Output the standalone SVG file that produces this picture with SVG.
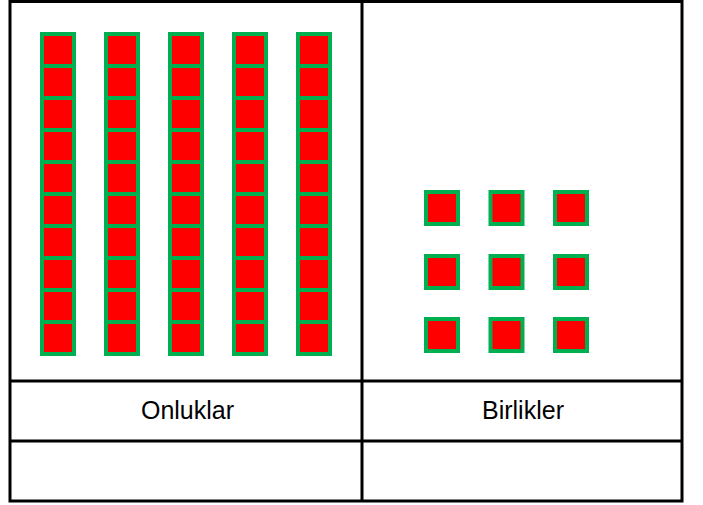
<svg xmlns="http://www.w3.org/2000/svg" xmlns:xlink="http://www.w3.org/1999/xlink" width="703" height="505" viewBox="0 0 703 505">
<style>
.grid{stroke:#000;stroke-width:3;fill:none}
.cell{fill:#ff0000;stroke:#00b050;stroke-width:4}
.lbl{font-family:"Liberation Sans",Arial,sans-serif;font-size:25px;fill:#000;text-anchor:middle}
</style>
<defs>
<g id="rod">
<rect class="cell" x="2" y="2" width="32" height="32"/>
<rect class="cell" x="2" y="34" width="32" height="32"/>
<rect class="cell" x="2" y="66" width="32" height="32"/>
<rect class="cell" x="2" y="98" width="32" height="32"/>
<rect class="cell" x="2" y="130" width="32" height="32"/>
<rect class="cell" x="2" y="162" width="32" height="32"/>
<rect class="cell" x="2" y="194" width="32" height="32"/>
<rect class="cell" x="2" y="226" width="32" height="32"/>
<rect class="cell" x="2" y="258" width="32" height="32"/>
<rect class="cell" x="2" y="290" width="32" height="32"/>
</g>
<rect id="unit" class="cell" x="2" y="2" width="32" height="32"/>
</defs>
<rect width="703" height="505" fill="#fff"/>
<g id="table">
<rect class="grid" x="10" y="1.5" width="672" height="499.5"/>
<line class="grid" x1="362" y1="1.5" x2="362" y2="501"/>
<line class="grid" x1="10" y1="381" x2="682" y2="381"/>
<line class="grid" x1="10" y1="441" x2="682" y2="441"/>
</g>
<g id="tens">
<use xlink:href="#rod" x="40" y="32"/>
<use xlink:href="#rod" x="104" y="32"/>
<use xlink:href="#rod" x="168" y="32"/>
<use xlink:href="#rod" x="232" y="32"/>
<use xlink:href="#rod" x="296" y="32"/>
</g>
<g id="ones">
<use xlink:href="#unit" x="424" y="190"/>
<use xlink:href="#unit" x="488.5" y="190"/>
<use xlink:href="#unit" x="553" y="190"/>
<use xlink:href="#unit" x="424" y="254"/>
<use xlink:href="#unit" x="488.5" y="254"/>
<use xlink:href="#unit" x="553" y="254"/>
<use xlink:href="#unit" x="424" y="317"/>
<use xlink:href="#unit" x="488.5" y="317"/>
<use xlink:href="#unit" x="553" y="317"/>
</g>
<g id="labels">
<text class="lbl" x="187.5" y="419">Onluklar</text>
<text class="lbl" x="523" y="419">Birlikler</text>
</g>
</svg>
